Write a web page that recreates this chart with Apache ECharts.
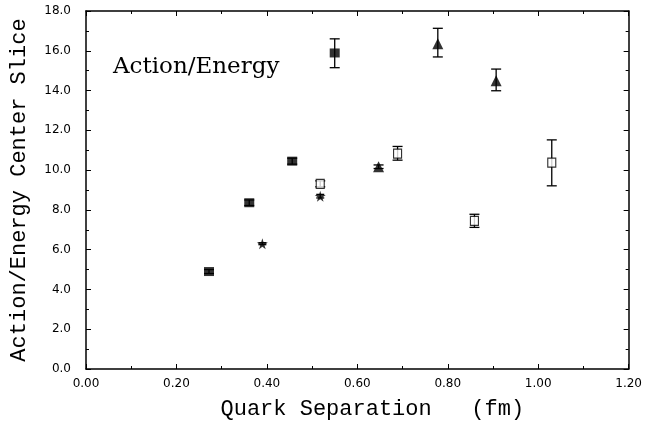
<!DOCTYPE html>
<html>
<head>
<meta charset="utf-8">
<script src="https://cdn.jsdelivr.net/npm/echarts@6/dist/echarts.min.js"></script>
<style>
  html, body { margin: 0; padding: 0; background: #fff; }
  #chart { width: 645px; height: 425px; }
</style>
</head>
<body>
<div id="chart"></div>
<script>
// Data: [x (fm), y, errLow, errHigh]
const filledSquares = [
  [0.272, 4.90, 4.80, 5.00],
  [0.361, 8.36, 8.22, 8.50],
  [0.456, 10.45, 10.30, 10.60],
  [0.550, 15.89, 15.15, 16.60]
]
const stars = [
  [0.390, 6.30, 6.25, 6.35],
  [0.518, 8.69, 8.60, 8.78]
]
const triangles = [
  [0.647, 10.17, 10.08, 10.26],
  [0.778, 16.35, 15.69, 17.13],
  [0.907, 14.49, 13.99, 15.08]
]
const openSquares = [
  [0.518, 9.31, 9.16, 9.46],
  [0.689, 10.83, 10.50, 11.19],
  [0.859, 7.45, 7.12, 7.78],
  [1.030, 10.38, 9.21, 11.52]
]

const starPath = 'path://M50,0 L61,35 L98,35 L68,57 L79,91 L50,70 L21,91 L32,57 L2,35 L39,35 Z'
const monoFont = '"Liberation Mono", "DejaVu Sans Mono", monospace'
const serifFont = '"DejaVu Serif", serif'
const tickFont = '"DejaVu Sans", sans-serif'

const chart = echarts.init(document.getElementById('chart'))

// error bar drawn via custom series
const errorBars = (rows, width) => ({
  type: 'custom',
  silent: true,
  z: 1,
  data: rows.map(r => [r[0], r[2], r[3]]),
  renderItem: (params, api) => {
    const lo = api.coord([api.value(0), api.value(1)])
    const hi = api.coord([api.value(0), api.value(2)])
    const hw = width
    const style = { stroke: '#000', lineWidth: 1.3 }
    return {
      type: 'group',
      children: [
        { type: 'line', shape: { x1: lo[0], y1: lo[1], x2: hi[0], y2: hi[1] }, style },
        { type: 'line', shape: { x1: lo[0] - hw, y1: lo[1], x2: lo[0] + hw, y2: lo[1] }, style },
        { type: 'line', shape: { x1: hi[0] - hw, y1: hi[1], x2: hi[0] + hw, y2: hi[1] }, style }
      ]
    }
  }
})

const axisCommon = {
  type: 'value',
  axisLine: { show: true, onZero: false, lineStyle: { color: '#000', width: 1.5 } },
  splitLine: { show: false },
  axisTick: { show: true, inside: true, length: 5, lineStyle: { color: '#000' } },
  minorTick: { show: true, splitNumber: 2, length: 3, lineStyle: { color: '#000' } }
}

const option = {
  animation: false,
  backgroundColor: '#fff',
  grid: { left: 81, right: 13, top: 11, bottom: 51 },
  xAxis: [
    {
      ...axisCommon,
      min: 0, max: 1.2, interval: 0.2,
      position: 'bottom',
      name: 'Quark Separation   (fm)',
      nameLocation: 'middle',
      nameGap: 29,
      nameTextStyle: { fontFamily: monoFont, fontSize: 22, color: '#000', padding: [0, 0, 0, 30] },
      axisLabel: {
        color: '#000', fontFamily: tickFont, fontSize: 12, margin: 9,
        formatter: v => v.toFixed(2)
      }
    },
    {
      ...axisCommon,
      min: 0, max: 1.2, interval: 0.2,
      position: 'top',
      axisLabel: { show: false }
    }
  ],
  yAxis: [
    {
      ...axisCommon,
      min: 0, max: 18, interval: 2,
      position: 'left',
      name: 'Action/Energy Center Slice',
      nameLocation: 'middle',
      nameGap: 56,
      nameTextStyle: { fontFamily: monoFont, fontSize: 22, color: '#000' },
      axisLabel: {
        color: '#000', fontFamily: tickFont, fontSize: 12, margin: 15,
        formatter: v => v.toFixed(1)
      }
    },
    {
      ...axisCommon,
      min: 0, max: 18, interval: 2,
      position: 'right',
      axisLabel: { show: false }
    }
  ],
  graphic: [
    {
      type: 'text',
      left: 113,
      top: 56,
      style: { text: 'Action/Energy', font: '23px ' + serifFont, fill: '#000' }
    }
  ],
  series: [
    errorBars(filledSquares, 5),
    errorBars(stars, 4),
    errorBars(triangles, 5),
    errorBars(openSquares, 5),
    {
      type: 'scatter', z: 3,
      symbol: 'rect', symbolSize: [10, 9],
      itemStyle: { color: '#000' },
      data: filledSquares.map(r => [r[0], r[1]])
    },
    {
      type: 'scatter', z: 3,
      symbol: starPath, symbolSize: 11,
      itemStyle: { color: '#000' },
      data: stars.map(r => [r[0], r[1]])
    },
    {
      type: 'scatter', z: 3,
      symbol: 'triangle', symbolSize: [11, 11],
      itemStyle: { color: '#000' },
      data: triangles.map(r => [r[0], r[1]])
    },
    {
      type: 'scatter', z: 3,
      symbol: 'rect', symbolSize: [8, 9],
      itemStyle: { color: '#fff', borderColor: '#000', borderWidth: 1.2 },
      data: openSquares.map(r => [r[0], r[1]])
    }
  ]
}

chart.setOption(option)
</script>
</body>
</html>
